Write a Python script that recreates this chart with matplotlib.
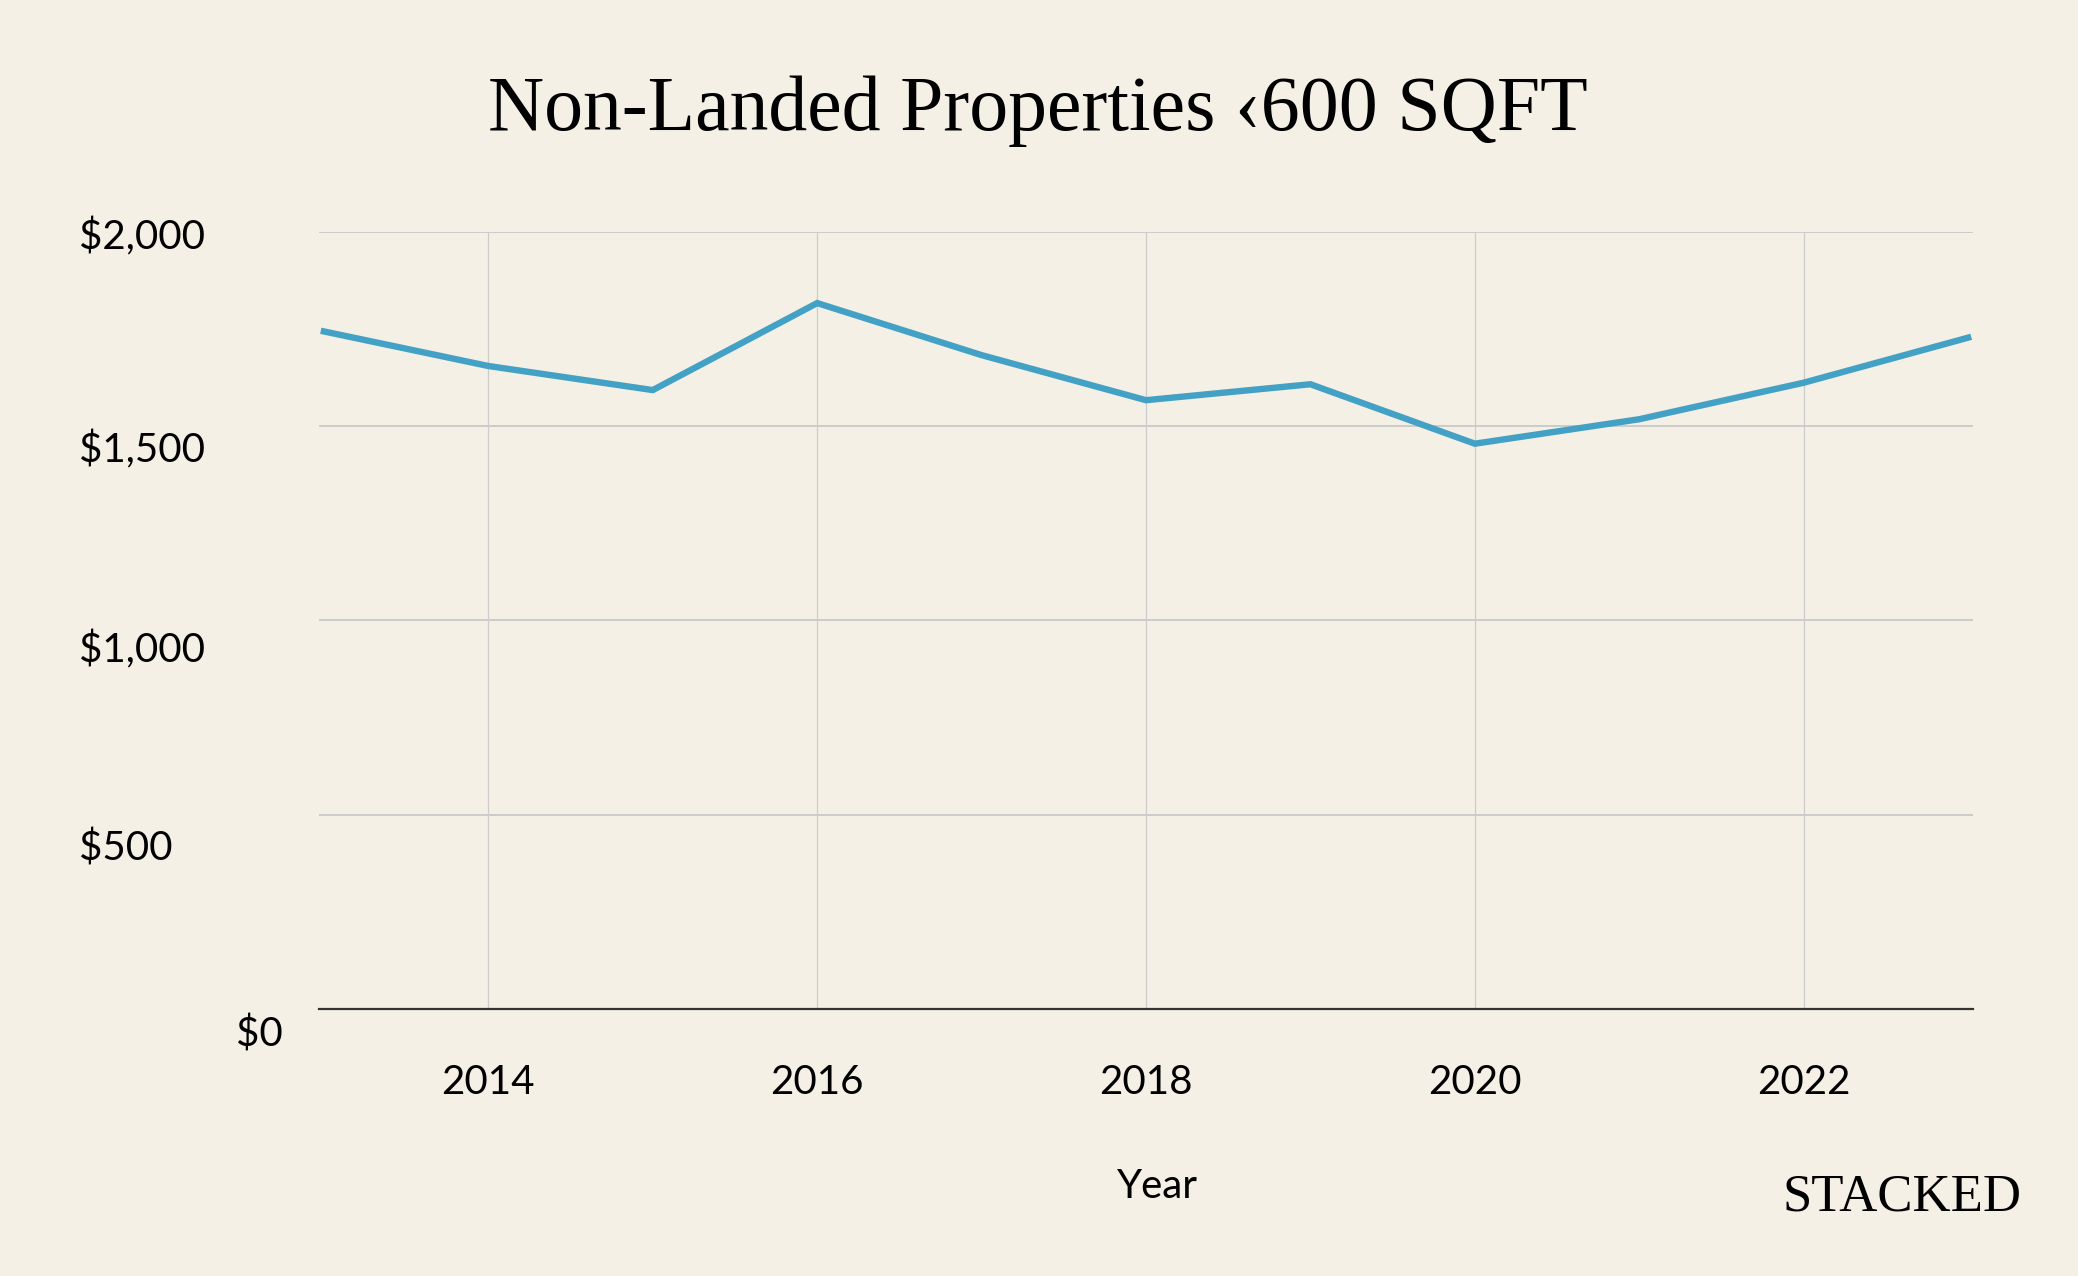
import matplotlib
matplotlib.use("Agg")
import matplotlib.pyplot as plt
import matplotlib.transforms as mtransforms

# price per sqft, non-landed < 600 sqft
years = [2013, 2014, 2015, 2016, 2017, 2018, 2019, 2020, 2021, 2022, 2023]
psf = [1744, 1655, 1593, 1817, 1683, 1567, 1608, 1455, 1518, 1612, 1728]

x_ticks = [2014, 2016, 2018, 2020, 2022]
y_ticks = [0, 500, 1000, 1500, 2000]
y_labels = ["$0", "$500", "$1,000", "$1,500", "$2,000"]

bg = "#F4F0E5"
line_col = "#43A1C5"
grid_col = "#CCCCCC"
sans = "Lato"
serif = "Liberation Serif"

fig = plt.figure(figsize=(20.78, 12.76), dpi=100, facecolor=bg)
ax = fig.add_axes([0.1535, 0.2093, 0.7960, 0.6089])
ax.set_facecolor(bg)

ax.plot(years, psf, color=line_col, lw=4.6, solid_joinstyle="miter", zorder=3)

ax.set_xlim(2012.97, 2023.03)
ax.set_ylim(0, 2000)
ax.set_xticks(x_ticks)
ax.set_xticklabels([str(x) for x in x_ticks], fontsize=29, fontfamily=sans)
ax.set_yticks(y_ticks)
ax.set_yticklabels([])
ax.tick_params(axis="both", length=0)
ax.tick_params(axis="x", pad=40)

for s in ["top", "right", "left"]:
    ax.spines[s].set_visible(False)
ax.spines["bottom"].set_color("#333333")
ax.spines["bottom"].set_linewidth(1.6)
ax.spines["bottom"].set_zorder(4)

ax.yaxis.grid(True, color=grid_col, lw=1.4, zorder=0)
ax.xaxis.grid(True, color=grid_col, lw=0.9, zorder=0)
ax.set_axisbelow(True)

# y labels sit a little below their gridlines in the original
y_shift = [26, 34, 29, 24, 5]
for v, lab, dy in zip(y_ticks, y_labels, y_shift):
    off = mtransforms.ScaledTranslation(0, -dy / 100, fig.dpi_scale_trans)
    tr = mtransforms.blended_transform_factory(fig.transFigure, ax.transData) + off
    if v == 0:
        ax.text(0.1362, v, lab, transform=tr, ha="right", va="center",
                fontsize=29, fontfamily=sans, clip_on=False)
    else:
        ax.text(0.038, v, lab, transform=tr, ha="left", va="center",
                fontsize=29, fontfamily=sans, clip_on=False)

fig.text(0.5568, 0.0611, "Year", ha="center", va="baseline",
         fontsize=29, fontfamily=sans)
fig.text(0.4995, 0.898, "Non-Landed Properties \u2039600 SQFT", ha="center",
         va="baseline", fontsize=56, fontfamily=serif)
fig.text(0.973, 0.0517, "STACKED", ha="right", va="baseline",
         fontsize=38, fontfamily=serif)

fig.savefig("out.png", dpi=100, facecolor=bg)
